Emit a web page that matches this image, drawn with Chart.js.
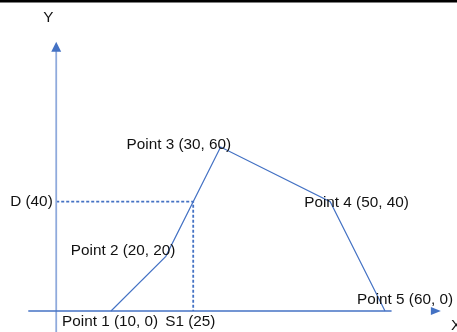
<!DOCTYPE html>
<html>
<head>
<meta charset="utf-8">
<script src="https://cdn.jsdelivr.net/npm/chart.js@4"></script>
<style>
  html, body { margin: 0; padding: 0; background: #fff; }
  #wrap { width: 457px; height: 332px; }
</style>
</head>
<body>
<div id="wrap"><canvas id="myChart" width="457" height="332"></canvas></div>
<script>
/* data */
const pointX = [10, 20, 30, 50, 60];
const pointY = [0, 20, 60, 40, 0];
const pointNames = ["Point 1", "Point 2", "Point 3", "Point 4", "Point 5"];

const s1Value = 25;
const dValue = 40;

/* axis extent (data units) */
const xAxisRange = [-5.1, 70.2];
const yAxisRange = [-8, 98.5];

/* label offsets in px from their anchor (left edge, middle) */
const pointLabelOffsets = [[-49, 11], [-95, -6], [-94, -2], [-26, 1], [-28, -11]];

function toXY(xs, ys) {
	let arr = [];
	for (let i = 0; i < xs.length; i++) {
		arr.push({ x: xs[i], y: ys[i] });
	}
	return arr;
}

const blue = "#4472C4";
const lightBlue = "#8FAADC";
const FONT = "15.3px 'Liberation Sans', Arial, sans-serif";

/* arrow heads, labels, top bar */
const decoPlugin = {
	id: "deco",
	beforeDraw(chart) {
		const ctx = chart.ctx;
		ctx.save();
		ctx.fillStyle = "#000";
		ctx.fillRect(0, 0, chart.width, 2.5);
		ctx.restore();
	},
	afterDatasetsDraw(chart) {
		const ctx = chart.ctx;
		const xs = chart.scales.x;
		const ys = chart.scales.y;
		ctx.save();

		// y arrow
		let tx = xs.getPixelForValue(0);
		let ty = ys.getPixelForValue(yAxisRange[1]);
		ctx.fillStyle = blue;
		ctx.beginPath();
		ctx.moveTo(tx, ty);
		ctx.lineTo(tx + 5, ty + 10);
		ctx.lineTo(tx - 5, ty + 10);
		ctx.closePath();
		ctx.fill();

		// x arrow
		let ax = xs.getPixelForValue(xAxisRange[1]);
		let ay = ys.getPixelForValue(0);
		ctx.beginPath();
		ctx.moveTo(ax, ay);
		ctx.lineTo(ax - 10, ay - 4);
		ctx.lineTo(ax - 10, ay + 4);
		ctx.closePath();
		ctx.fill();

		ctx.font = FONT;
		ctx.fillStyle = "#111";
		ctx.textAlign = "left";
		ctx.textBaseline = "middle";

		ctx.fillText("Y", tx - 13, ty - 24);
		ctx.fillText("X", ax + 10, ay + 15);

		for (let i = 0; i < pointX.length; i++) {
			let px = xs.getPixelForValue(pointX[i]);
			let py = ys.getPixelForValue(pointY[i]);
			let txt = pointNames[i] + " (" + pointX[i] + ", " + pointY[i] + ")";
			ctx.fillText(txt, px + pointLabelOffsets[i][0], py + pointLabelOffsets[i][1]);
		}

		ctx.fillText("S1 (" + s1Value + ")", xs.getPixelForValue(s1Value) - 28, ys.getPixelForValue(0) + 11);
		ctx.fillText("D (" + dValue + ")", xs.getPixelForValue(0) - 46, ys.getPixelForValue(dValue));

		ctx.restore();
	}
};

const ctx = document.getElementById("myChart").getContext("2d");

const myChart = new Chart(ctx, {
	type: "scatter",
	data: {
		datasets: [
			{
				label: "x axis",
				data: [{ x: xAxisRange[0], y: 0 }, { x: xAxisRange[1] - 9, y: 0 }],
				showLine: true,
				borderColor: blue,
				borderWidth: 1.3,
				pointRadius: 0
			},
			{
				label: "y axis",
				data: [{ x: 0, y: yAxisRange[0] }, { x: 0, y: yAxisRange[1] - 3 }],
				showLine: true,
				borderColor: lightBlue,
				borderWidth: 1.8,
				pointRadius: 0
			},
			{
				label: "guide",
				data: [{ x: 0, y: dValue }, { x: s1Value, y: dValue }, { x: s1Value, y: 0 }],
				showLine: true,
				borderColor: blue,
				borderWidth: 1.8,
				borderDash: [3, 2],
				pointRadius: 0
			},
			{
				label: "curve",
				data: toXY(pointX, pointY),
				showLine: true,
				borderColor: blue,
				borderWidth: 1.2,
				pointRadius: 0,
				tension: 0
			}
		]
	},
	options: {
		responsive: false,
		animation: false,
		devicePixelRatio: 1,
		layout: { padding: 0 },
		plugins: {
			legend: { display: false },
			tooltip: { enabled: false }
		},
		scales: {
			x: { type: "linear", display: false, min: -10.26, max: 73.14 },
			y: { type: "linear", display: false, min: -7.68, max: 113.8 }
		}
	},
	plugins: [decoPlugin]
});
</script>
</body>
</html>
